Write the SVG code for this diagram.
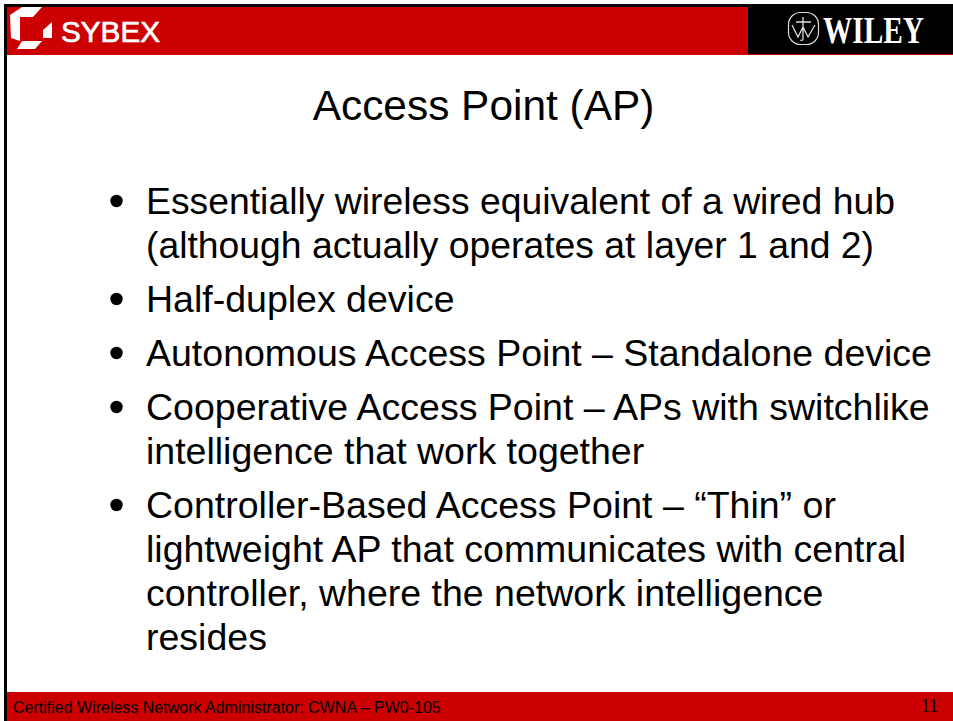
<svg xmlns="http://www.w3.org/2000/svg" width="953" height="721" viewBox="0 0 953 721">
<style>
.b{font-family:"Liberation Sans",Arial,sans-serif;font-size:37.5px;fill:#000}
.d{fill:#000}
</style>
<rect width="953" height="721" fill="#fff"/>
<g id="frame">
<rect x="4" y="4" width="949" height="3" fill="#000"/>
<rect x="4" y="4" width="3" height="717" fill="#000"/>
</g>
<g id="header">
<rect x="7" y="7" width="946" height="48" fill="#cc0000"/>
<rect x="748" y="5" width="205" height="49" fill="#000"/>
</g>
<g id="sybex-logo">
<path d="M10 15L22 7H42L33 17H20V41L11 38Z" fill="#fff"/>
<path d="M43 30L52 22V38H43Z" fill="#fff"/>
<path d="M22 41H42L35 49H17Z" fill="#fff"/>
<text x="61" y="42" font-family="'Liberation Sans',Arial,sans-serif" font-size="29" fill="#fff" stroke="#fff" stroke-width="0.7" textLength="99" lengthAdjust="spacingAndGlyphs">SYBEX</text>
</g>
<g id="wiley-logo">
<rect x="788.5" y="12.5" width="30" height="32" rx="12" fill="none" stroke="#ddd" stroke-width="1.2"/>
<path d="M796 22H811M803 17V39Q803 41 800 40M792 25L798 37L803 27L808 37L815 25" fill="none" stroke="#ddd" stroke-width="1.3"/>
<text x="823" y="43" font-family="'Liberation Serif',serif" font-weight="bold" font-size="38" fill="#fff" textLength="101" lengthAdjust="spacingAndGlyphs">WILEY</text>
</g>
<g id="title">
<text x="483.5" y="120" text-anchor="middle" font-family="'Liberation Sans',Arial,sans-serif" font-size="42.4" fill="#000">Access Point (AP)</text>
</g>
<g id="bullets">
<circle class="d" cx="116.5" cy="201" r="6.2"/>
<text class="b" x="146" y="214" textLength="749" lengthAdjust="spacingAndGlyphs">Essentially wireless equivalent of a wired hub</text>
<text class="b" x="146" y="258" textLength="728" lengthAdjust="spacingAndGlyphs">(although actually operates at layer 1 and 2)</text>
<circle class="d" cx="116.5" cy="299" r="6.2"/>
<text class="b" x="146" y="312">Half-duplex device</text>
<circle class="d" cx="116.5" cy="353" r="6.2"/>
<text class="b" x="146" y="366">Autonomous Access Point – Standalone device</text>
<circle class="d" cx="116.5" cy="407" r="6.2"/>
<text class="b" x="146" y="420">Cooperative Access Point – APs with switchlike</text>
<text class="b" x="146" y="464">intelligence that work together</text>
<circle class="d" cx="116.5" cy="505" r="6.2"/>
<text class="b" x="146" y="518">Controller-Based Access Point – “Thin” or</text>
<text class="b" x="146" y="562">lightweight AP that communicates with central</text>
<text class="b" x="146" y="606">controller, where the network intelligence</text>
<text class="b" x="146" y="650">resides</text>
</g>
<g id="footer">
<rect x="7" y="692" width="946" height="29" fill="#cc0000"/>
<text x="13" y="713" font-family="'Liberation Sans',Arial,sans-serif" font-size="16" fill="#000">Certified Wireless Network Administrator: CWNA – PW0-105</text>
<text x="921" y="712" font-family="'Liberation Serif',serif" font-size="18" fill="#000">11</text>
</g>
</svg>
